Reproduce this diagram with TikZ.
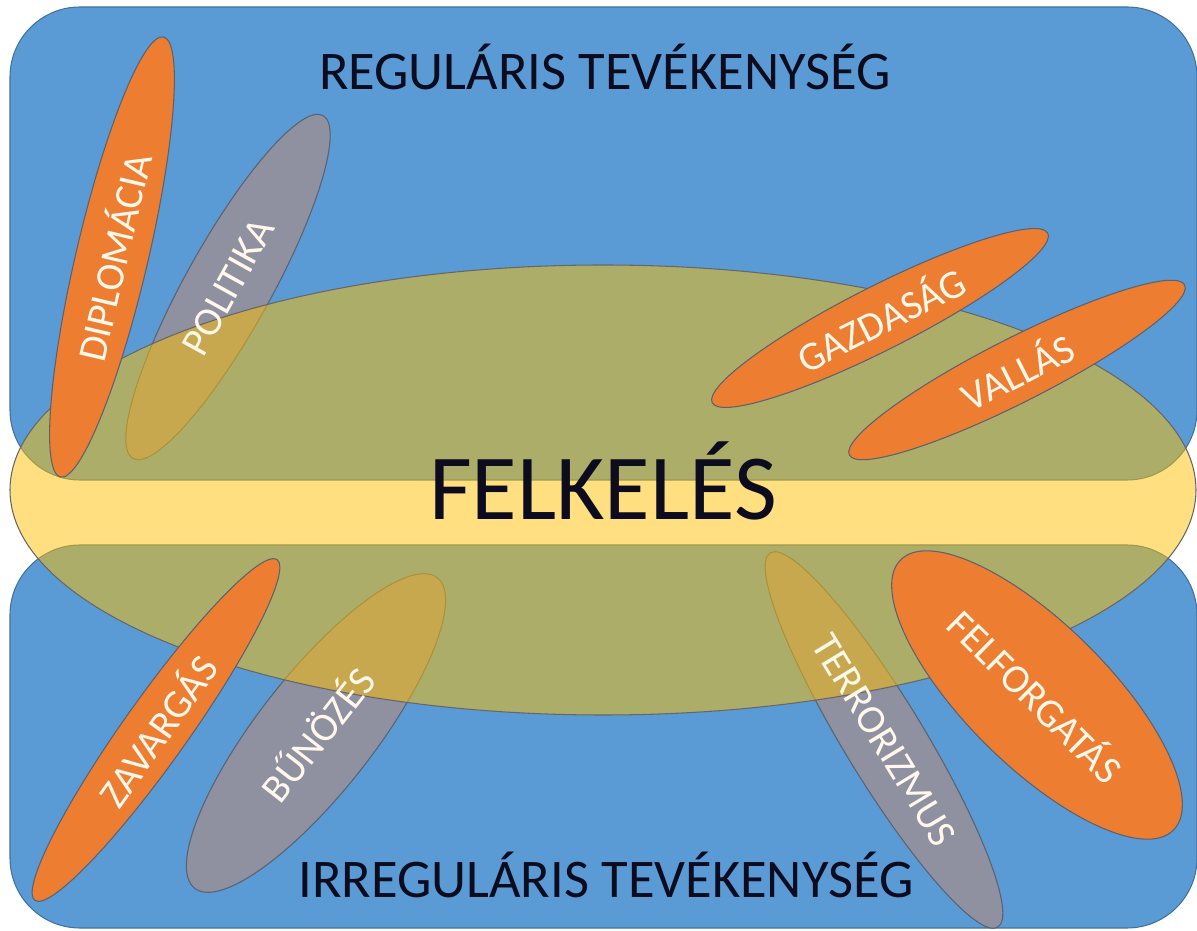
\documentclass[tikz,border=0pt]{standalone}
\usepackage{fontspec}
\setmainfont{Carlito}
\usepackage{tikz}
\usetikzlibrary{shapes.geometric}
\definecolor{areablue}{RGB}{91,155,213}
\definecolor{areaedge}{RGB}{65,113,156}
\definecolor{coreyellow}{RGB}{255,192,0}
\definecolor{blobora}{RGB}{237,125,49}
\definecolor{blobgray}{RGB}{143,144,160}
\definecolor{blobedge}{RGB}{88,98,112}
\definecolor{titleink}{RGB}{12,12,30}
\definecolor{lblink}{RGB}{255,248,234}
\newcommand{\px}{0.02cm}

\begin{document}
\begin{tikzpicture}[x=\px,y=\px,
  area/.style={draw=areaedge,fill=areablue,line width=0.6pt,rounded corners=1.4cm},
  blob/.style={ellipse,draw=blobedge,line width=0.6pt,inner sep=0pt},
  lbl/.style={text=lblink,font=\fontsize{23}{26}\selectfont,inner sep=0pt},
  heading/.style={text=titleink,font=\fontsize{31}{36}\selectfont,anchor=base}]
\useasboundingbox (0,0) rectangle (1197,930);
% the two fields
\draw[area] (10,450) rectangle (1197,923);
\draw[area] (10,2) rectangle (1197,385);
% gray ones lie under the core
\node[blob,fill=blobgray,minimum width=392*\px,minimum height=86*\px,rotate=61] (politika) at (228,643) {};
\node[blob,fill=blobgray,minimum width=394*\px,minimum height=116*\px,rotate=52] (bunozes) at (316,197) {};
\node[blob,fill=blobgray,minimum width=438*\px,minimum height=80*\px,rotate=-58.7] (terror) at (884,190) {};
% core
\node[ellipse,draw=gray!80!black,line width=0.6pt,fill=coreyellow,fill opacity=0.5,inner sep=0pt,
  minimum width=1186*\px,minimum height=450*\px] (core) at (603,440) {};
% orange ones on top
\node[blob,fill=blobora,minimum width=452*\px,minimum height=72*\px,rotate=76.8] (diplo) at (112,673) {};
\node[blob,fill=blobora,minimum width=376*\px,minimum height=64*\px,rotate=26.8] (gazd) at (880,612) {};
\node[blob,fill=blobora,minimum width=376*\px,minimum height=64*\px,rotate=26.9] (vallas) at (1017,560) {};
\node[blob,fill=blobora,minimum width=418*\px,minimum height=64*\px,rotate=54.6] (zavar) at (156,200) {};
\node[blob,fill=blobora,minimum width=384*\px,minimum height=142*\px,rotate=-44.7] (felforg) at (1037,235) {};
% texts
\node[heading] (reg) at (605,840) {REGULÁRIS TEVÉKENYSÉG};
\node[heading] (irreg) at (606,32) {IRREGULÁRIS TEVÉKENYSÉG};
\node[text=titleink,font=\fontsize{53}{62}\selectfont,anchor=base] (felkeles) at (603,410) {FELKELÉS};
\node[lbl,rotate=76.8] (diplotxt) at (diplo.center) {DIPLOMÁCIA};
\node[lbl,rotate=61] (politikatxt) at (politika.center) {POLITIKA};
\node[lbl,rotate=26.8] (gazdtxt) at (gazd.center) {GAZDASÁG};
\node[lbl,rotate=26.9] (vallastxt) at (vallas.center) {VALLÁS};
\node[lbl,rotate=54.6] (zavartxt) at (zavar.center) {ZAVARGÁS};
\node[lbl,rotate=52] (bunozestxt) at (bunozes.center) {BŰNÖZÉS};
\node[lbl,rotate=-58.7] (terrortxt) at (terror.center) {TERRORIZMUS};
\node[lbl,rotate=-44.7] (felforgtxt) at (felforg.center) {FELFORGATÁS};
\end{tikzpicture}
\end{document}
